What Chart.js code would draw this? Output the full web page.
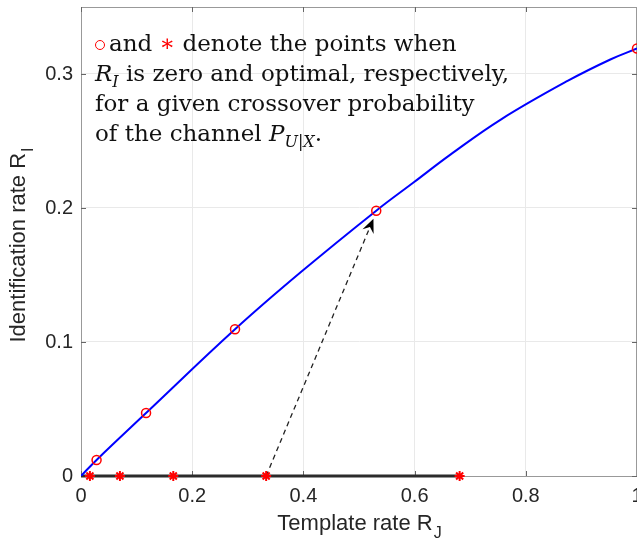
<!DOCTYPE html>
<html lang="en">
<head>
    <meta charset="UTF-8">
    <title>identification rate vs template rate</title>
    <script src="https://cdn.jsdelivr.net/npm/chart.js"></script>
    <style>
        body {
            margin: 0;
            background-color: #ffffff;
            overflow: hidden;
        }

        #wrap {
            position: relative;
            width: 637px;
            height: 546px;
            overflow: hidden;
        }

        #note {
            position: absolute;
            left: 95px;
            top: 28px;
            font-family: 'DejaVu Serif', serif;
            font-size: 23px;
            line-height: 30px;
            color: #111111;
            white-space: nowrap;
        }

        #note i {
            font-style: italic;
        }

        #note sub {
            font-size: 16px;
            line-height: 0;
            vertical-align: -6px;
        }

        .ring {
            display: inline-block;
            width: 8px;
            height: 8px;
            border: 1.5px solid #ff0000;
            border-radius: 50%;
            margin-right: 4px;
            vertical-align: 1px;
        }

        .ast {
            color: #ff0000;
        }
    </style>
</head>
<body>

    <div id="wrap">
        <canvas id="graph" width="637" height="546"></canvas>
        <div id="note">
            <span class="ring"></span>and <span class="ast">∗</span> denote the points when<br>
            <i>R</i><sub><i>I</i></sub> is zero and optimal, respectively,<br>
            for a given crossover probability<br>
            of the channel <i>P</i><sub><i>U</i>|<i>X</i></sub>.
        </div>
    </div>

    <script>
        // boundary curve
        const curveX = [0, 0.028, 0.117, 0.277, 0.395, 0.531, 0.598, 0.665, 0.755, 0.876, 0.953, 1.0];
        const curveY = [0, 0.012, 0.047, 0.1095, 0.152, 0.198, 0.219, 0.240, 0.266, 0.295, 0.311, 0.319];

        // points where R_I is zero (circles) / optimal (stars)
        const zeroX = [0.028, 0.117, 0.277, 0.531, 1.0];
        const zeroY = [0.012, 0.047, 0.1095, 0.198, 0.319];
        const optX = [0.016, 0.070, 0.166, 0.333, 0.681];
        const optY = [0, 0, 0, 0, 0];

        // thick segment on the axis and the dashed arrow
        const segX = [0, 0.681];
        const segY = [0, 0];
        const arrowX = [0.333, 0.526];
        const arrowY = [0, 0.192];

        const xTicks = [0, 0.2, 0.4, 0.6, 0.8, 1];
        const yTicks = [0, 0.1, 0.2, 0.3];

        const toPts = (xs, ys) => xs.map((x, i) => ({ x: x, y: ys[i] }));
        const fmt = v => String(Math.round(v * 100) / 100);

        const tickFont = { family: "'Liberation Sans', Arial, sans-serif", size: 20 };
        const labelColor = '#262626';

        const framePlugin = {
            id: 'frame',
            beforeDatasetsDraw(chart) {
                const { ctx, chartArea: a, scales } = chart;
                ctx.save();
                ctx.strokeStyle = '#999999';
                ctx.lineWidth = 1;
                ctx.beginPath();
                ctx.moveTo(a.left, a.top + 0.5);
                ctx.lineTo(a.right, a.top + 0.5);
                ctx.moveTo(a.right - 0.5, a.top);
                ctx.lineTo(a.right - 0.5, a.bottom);
                ctx.stroke();

                // inward tick marks
                ctx.strokeStyle = '#666666';
                ctx.beginPath();
                xTicks.forEach(v => {
                    const px = Math.round(scales.x.getPixelForValue(v)) + 0.5;
                    ctx.moveTo(px, a.bottom);
                    ctx.lineTo(px, a.bottom - 5);
                    ctx.moveTo(px, a.top);
                    ctx.lineTo(px, a.top + 5);
                });
                yTicks.forEach(v => {
                    const py = Math.round(scales.y.getPixelForValue(v)) + 0.5;
                    ctx.moveTo(a.left, py);
                    ctx.lineTo(a.left + 5, py);
                    ctx.moveTo(a.right, py);
                    ctx.lineTo(a.right - 5, py);
                });
                ctx.stroke();
                ctx.restore();
            },
            afterDatasetsDraw(chart) {
                // arrow head at the end of the dashed line
                const { ctx, scales } = chart;
                const x0 = scales.x.getPixelForValue(arrowX[0]);
                const y0 = scales.y.getPixelForValue(arrowY[0]);
                const x1 = scales.x.getPixelForValue(arrowX[1]);
                const y1 = scales.y.getPixelForValue(arrowY[1]);
                const ang = Math.atan2(y1 - y0, x1 - x0);
                const len = 14, half = 6;
                ctx.save();
                ctx.translate(x1, y1);
                ctx.rotate(ang);
                ctx.fillStyle = '#000000';
                ctx.beginPath();
                ctx.moveTo(0, 0);
                ctx.lineTo(-len, -half);
                ctx.lineTo(-len * 0.65, 0);
                ctx.lineTo(-len, half);
                ctx.closePath();
                ctx.fill();
                ctx.restore();
            },
            afterDraw(chart) {
                // axis titles with subscripts
                const { ctx, chartArea: a } = chart;
                ctx.save();
                ctx.fillStyle = labelColor;
                ctx.textBaseline = 'alphabetic';
                const big = "22px 'Liberation Sans', Arial, sans-serif";
                const small = "16px 'Liberation Sans', Arial, sans-serif";

                ctx.font = big;
                const wx = ctx.measureText('Template rate R').width;
                ctx.font = small;
                const sx = ctx.measureText('J').width;
                let start = (a.left + a.right) / 2 - (wx + sx) / 2;
                ctx.font = big;
                ctx.fillText('Template rate R', start, 530);
                ctx.font = small;
                ctx.fillText('J', start + wx + 1, 538);

                ctx.translate(25, (a.top + a.bottom) / 2 + 4);
                ctx.rotate(-Math.PI / 2);
                ctx.font = big;
                const wy = ctx.measureText('Identification rate R').width;
                ctx.font = small;
                const sy = ctx.measureText('I').width;
                start = -(wy + sy) / 2;
                ctx.font = big;
                ctx.fillText('Identification rate R', start, 0);
                ctx.font = small;
                ctx.fillText('I', start + wy + 1, 8);
                ctx.restore();
            }
        };

        const ctx = document.getElementById('graph').getContext('2d');
        const graph = new Chart(ctx, {
            type: 'scatter',
            data: {
                datasets: [
                    {
                        label: 'optimal',
                        data: toPts(optX, optY),
                        pointStyle: 'star',
                        pointRadius: 5,
                        borderColor: '#ff0000',
                        borderWidth: 2,
                        showLine: false,
                        clip: false
                    },
                    {
                        label: 'zero',
                        data: toPts(zeroX, zeroY),
                        pointStyle: 'circle',
                        pointRadius: 4.5,
                        borderColor: '#ff0000',
                        backgroundColor: 'rgba(0,0,0,0)',
                        borderWidth: 1.5,
                        showLine: false,
                        clip: false
                    },
                    {
                        label: 'boundary',
                        data: toPts(curveX, curveY),
                        borderColor: '#0000ff',
                        borderWidth: 2,
                        pointRadius: 0,
                        showLine: true,
                        tension: 0.4
                    },
                    {
                        label: 'segment',
                        data: toPts(segX, segY),
                        borderColor: '#2b2b2b',
                        borderWidth: 3,
                        pointRadius: 0,
                        showLine: true,
                        clip: false
                    },
                    {
                        label: 'arrow',
                        data: toPts(arrowX, arrowY),
                        borderColor: '#222222',
                        borderWidth: 1.3,
                        borderDash: [5, 4],
                        pointRadius: 0,
                        showLine: true
                    }
                ]
            },
            options: {
                responsive: false,
                animation: false,
                layout: { autoPadding: false, padding: { top: 7, left: 0, right: 0, bottom: 0 } },
                plugins: {
                    legend: { display: false },
                    tooltip: { enabled: false }
                },
                scales: {
                    x: {
                        type: 'linear',
                        min: 0,
                        max: 1,
                        ticks: {
                            stepSize: 0.2,
                            includeBounds: false,
                            autoSkip: false,
                            maxRotation: 0,
                            padding: 8,
                            color: labelColor,
                            font: tickFont,
                            callback: fmt
                        },
                        grid: { color: '#e9e9e9', drawTicks: false },
                        border: { color: '#999999' },
                        afterFit(s) {
                            s.height = 70;
                            s.paddingLeft = 0;
                            s.paddingRight = 0;
                        }
                    },
                    y: {
                        type: 'linear',
                        min: 0,
                        max: 0.35,
                        ticks: {
                            stepSize: 0.1,
                            includeBounds: false,
                            padding: 8,
                            color: labelColor,
                            font: tickFont,
                            callback: fmt
                        },
                        grid: { color: '#e9e9e9', drawTicks: false },
                        border: { color: '#999999' },
                        afterFit(s) {
                            s.width = 81;
                            s.paddingTop = 0;
                            s.paddingBottom = 0;
                        }
                    }
                }
            },
            plugins: [framePlugin]
        });
    </script>

</body>
</html>
